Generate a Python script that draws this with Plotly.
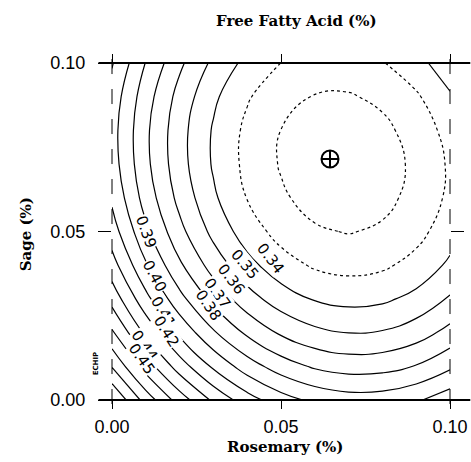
import plotly.graph_objects as go

# Grid axes (%)
rosemary = [0.00, 0.01, 0.02, 0.03, 0.04, 0.05, 0.06, 0.07, 0.08, 0.09, 0.10]
sage = [0.00, 0.01, 0.02, 0.03, 0.04, 0.05, 0.06, 0.07, 0.08, 0.09, 0.10]

# Free fatty acid (%) estimated at each grid node; rows = sage, cols = rosemary
ffa = [
    [0.4801, 0.4559, 0.4353, 0.4181, 0.4044, 0.3943, 0.3876, 0.3844, 0.3848, 0.3886, 0.3959],
    [0.4593, 0.4354, 0.4151, 0.3982, 0.3848, 0.3750, 0.3686, 0.3657, 0.3664, 0.3705, 0.3781],
    [0.4414, 0.4178, 0.3977, 0.3812, 0.3681, 0.3585, 0.3524, 0.3499, 0.3508, 0.3552, 0.3632],
    [0.4263, 0.4030, 0.3832, 0.3670, 0.3542, 0.3449, 0.3392, 0.3369, 0.3381, 0.3429, 0.3511],
    [0.4141, 0.3911, 0.3716, 0.3557, 0.3432, 0.3342, 0.3287, 0.3268, 0.3283, 0.3333, 0.3419],
    [0.4047, 0.3820, 0.3629, 0.3472, 0.3350, 0.3264, 0.3212, 0.3195, 0.3214, 0.3267, 0.3355],
    [0.3982, 0.3758, 0.3570, 0.3416, 0.3297, 0.3214, 0.3165, 0.3151, 0.3173, 0.3229, 0.3320],
    [0.3946, 0.3725, 0.3539, 0.3389, 0.3273, 0.3192, 0.3146, 0.3136, 0.3160, 0.3219, 0.3314],
    [0.3938, 0.3720, 0.3537, 0.3390, 0.3277, 0.3199, 0.3157, 0.3149, 0.3176, 0.3239, 0.3336],
    [0.3958, 0.3744, 0.3564, 0.3419, 0.3310, 0.3235, 0.3195, 0.3191, 0.3221, 0.3286, 0.3387],
    [0.4008, 0.3796, 0.3620, 0.3478, 0.3371, 0.3299, 0.3263, 0.3261, 0.3294, 0.3363, 0.3466],
]

dotted_levels = (0.32, 0.33)
solid_levels = (0.34, 0.48)
level_step = 0.01

# contour labels as they appear in the reference (text, rosemary, sage, angle)
label_text = ["0.34", "0.35", "0.36", "0.37", "0.38", "0.39", "0.40", "0.41", "0.42", "0.44", "0.45"]
label_x = [0.0468, 0.0392, 0.0353, 0.0311, 0.0285, 0.0102, 0.0126, 0.0152, 0.0160, 0.0095, 0.0088]
label_y = [0.0421, 0.0403, 0.0360, 0.0318, 0.0282, 0.0500, 0.0368, 0.0262, 0.0205, 0.0163, 0.0122]
label_angle = [52, 50, 52, 54, 56, 70, 62, 60, 58, 55, 55]

optimum_x = [0.0645]
optimum_y = [0.0715]

tick_vals = [0.00, 0.05, 0.10]
tick_text = ["0.00", "0.05", "0.10"]

fig = go.Figure()

fig.add_trace(go.Contour(
    x=rosemary, y=sage, z=ffa,
    contours=dict(coloring="none", start=dotted_levels[0], end=dotted_levels[1],
                  size=level_step, showlabels=False),
    line=dict(color="black", width=1.2, dash="dot", smoothing=1.3),
    showscale=False, hoverinfo="skip",
))

fig.add_trace(go.Contour(
    x=rosemary, y=sage, z=ffa,
    contours=dict(coloring="none", start=solid_levels[0], end=solid_levels[1],
                  size=level_step, showlabels=False),
    line=dict(color="black", width=1.2, smoothing=1.3),
    showscale=False, hoverinfo="skip",
))

fig.add_trace(go.Scatter(
    x=optimum_x, y=optimum_y, mode="markers",
    marker=dict(symbol="circle-cross-open", size=17, color="black",
                line=dict(width=2, color="black")),
    hoverinfo="skip", showlegend=False,
))

annotations = [
    dict(text="<b>Free Fatty Acid (%)</b>", xref="paper", yref="paper",
         x=0.545, y=1.125, showarrow=False, xanchor="center", yanchor="middle",
         font=dict(family="DejaVu Serif", size=15, color="black")),
    dict(text="<b>Rosemary (%)</b>", xref="paper", yref="paper",
         x=0.511, y=-0.139, showarrow=False, xanchor="center", yanchor="middle",
         font=dict(family="DejaVu Serif", size=15, color="black")),
    dict(text="<b>Sage (%)</b>", xref="paper", yref="paper",
         x=-0.256, y=0.493, showarrow=False, xanchor="center", yanchor="middle",
         textangle=-90,
         font=dict(family="DejaVu Serif", size=15, color="black")),
    dict(text="<b>ECHIP</b>", xref="paper", yref="paper",
         x=-0.049, y=0.11, showarrow=False, xanchor="center", yanchor="middle",
         textangle=-90,
         font=dict(family="DejaVu Sans", size=7, color="black")),
]
for t, lx, ly, ang in zip(label_text, label_x, label_y, label_angle):
    annotations.append(dict(
        text=t, x=lx, y=ly, xref="x", yref="y", showarrow=False,
        textangle=ang, bgcolor="white", borderpad=0,
        font=dict(family="DejaVu Sans", size=15, color="black"),
    ))

fig.update_layout(
    template="none",
    width=471, height=462,
    margin=dict(l=112, r=21, t=63, b=62, autoexpand=False),
    paper_bgcolor="white", plot_bgcolor="white",
    showlegend=False,
    font=dict(family="Liberation Sans", color="black"),
    xaxis=dict(range=[0, 0.1], tickvals=tick_vals, ticktext=tick_text,
               ticks="outside", ticklen=8, tickwidth=1, tickcolor="black",
               showline=False, mirror="ticks", showgrid=False, zeroline=False,
               automargin=False,
               tickfont=dict(family="Liberation Sans", size=18, color="black"),
               ticklabelstandoff=2),
    yaxis=dict(range=[0, 0.1], tickvals=tick_vals, ticktext=tick_text,
               ticks="outside", ticklen=13, tickwidth=1, tickcolor="black",
               showline=False, mirror="ticks",
               showgrid=False, zeroline=False, automargin=False,
               tickfont=dict(family="Liberation Sans", size=18, color="black"),
               ticklabelstandoff=9),
    shapes=[
        dict(type="line", xref="paper", yref="paper", x0=-0.04, x1=1.06, y0=0, y1=0,
             line=dict(color="black", width=2.2)),
        dict(type="line", xref="paper", yref="paper", x0=-0.04, x1=1.06, y0=1, y1=1,
             line=dict(color="black", width=2.2)),
        dict(type="line", xref="paper", yref="paper", x0=0, x1=0, y0=-0.012, y1=1.024,
             line=dict(color="black", width=1, dash="longdash")),
        dict(type="line", xref="paper", yref="paper", x0=1, x1=1, y0=-0.012, y1=1.024,
             line=dict(color="black", width=1, dash="longdash")),
    ],
    annotations=annotations,
)

fig.write_html(
    "out.html",
    config={"displayModeBar": False},
    post_script="document.body.style.margin='0px';document.body.style.overflow='hidden';",
)
